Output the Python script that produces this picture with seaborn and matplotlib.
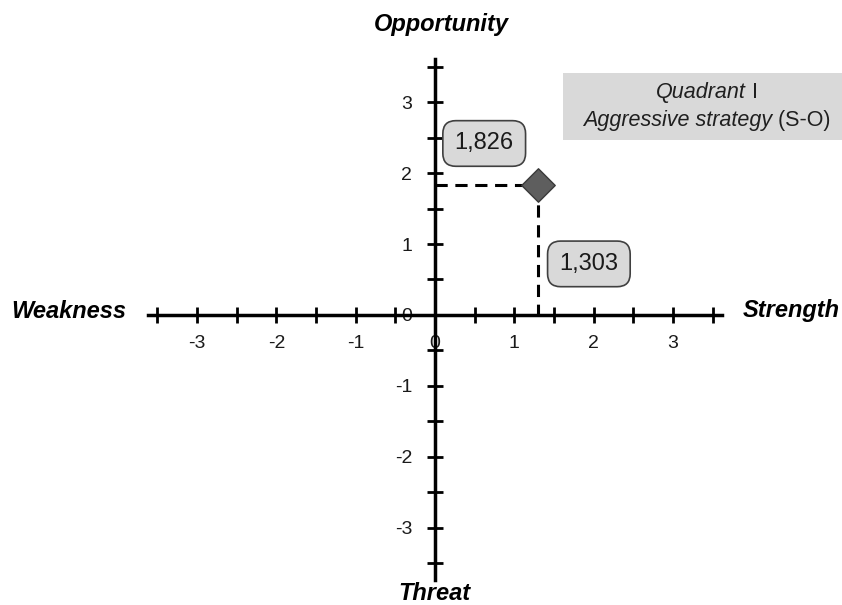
import numpy as np
import pandas as pd
import seaborn as sns
import matplotlib.pyplot as plt
from matplotlib.patches import Rectangle
from matplotlib.ticker import FixedLocator

sns.set_theme(style="white")
plt.rcParams['font.family'] = ['Liberation Sans', 'DejaVu Sans']

# 数据：SWOT 坐标
strength_score = [1.303]
opportunity_score = [1.826]
x_label_txt = ["1,303"]
y_label_txt = ["1,826"]
axis_ticks = [-3, -2, -1, 0, 1, 2, 3]
axis_names = ["Strength", "Weakness", "Opportunity", "Threat"]
quadrant_lines = [("Quadrant", "I"), ("Aggressive strategy", "(S-O)")]

df = pd.DataFrame({"S": strength_score, "O": opportunity_score})

fig = plt.figure(figsize=(8.42, 6.05), dpi=100)
ax = fig.add_axes([0, 0, 1, 1])
ax.set_xlim(-5.486, 5.132)
ax.set_ylim(-4.085, 4.437)

# 坐标轴放在原点
for side in ['top', 'right']:
    ax.spines[side].set_visible(False)
ax.spines['left'].set_position(('data', 0))
ax.spines['bottom'].set_position(('data', 0))
ax.spines['bottom'].set_bounds(-3.62, 3.62)
ax.spines['left'].set_bounds(-3.73, 3.6)
for side in ['left', 'bottom']:
    ax.spines[side].set_linewidth(2.5)
    ax.spines[side].set_color('black')

half_ticks = np.arange(-3.5, 3.51, 0.5)
ax.set_xticks(axis_ticks)
ax.set_yticks(axis_ticks)
ax.set_xticklabels([str(t) for t in axis_ticks])
ax.set_yticklabels([str(t) for t in axis_ticks])
ax.xaxis.set_minor_locator(FixedLocator(half_ticks))
ax.yaxis.set_minor_locator(FixedLocator(half_ticks))
ax.tick_params(which='both', bottom=True, left=True, direction='inout',
               length=11, width=2, color='black')
ax.tick_params(axis='x', which='major', pad=9, labelsize=14, labelcolor='#1a1a1a')
ax.tick_params(axis='y', which='major', pad=11, labelsize=14, labelcolor='#1a1a1a')
ax.grid(False)

# 虚线
s, o = strength_score[0], opportunity_score[0]
ax.plot([0, s], [o, o], ls=(0, (4, 2.5)), color='black', lw=2.2, zorder=3)
ax.plot([s, s], [o, 0], ls=(0, (4, 2.5)), color='black', lw=2.2, zorder=3)

# 点
sns.scatterplot(data=df, x="S", y="O", marker='D', s=290, color='#5e5e5e',
                edgecolor='#3a3a3a', linewidth=1, zorder=5, ax=ax, legend=False)
ax.set_xlabel("")
ax.set_ylabel("")

box = dict(boxstyle='round,pad=0.5,rounding_size=0.55', facecolor='#d9d9d9',
           edgecolor='#404040', linewidth=1.2)
ax.text(0.62, o + 0.59, y_label_txt[0], fontsize=17, ha='center', va='center',
        color='#1a1a1a', bbox=box, zorder=6)
ax.text(1.94, 0.72, x_label_txt[0], fontsize=17, ha='center', va='center',
        color='#1a1a1a', bbox=box, zorder=6)

# 轴名称
name_kw = dict(fontsize=17, fontweight='bold', fontstyle='italic', color='black',
               transform=ax.transAxes, ha='center', va='center')
ax.text(791 / 842, 1 - 311 / 605, axis_names[0], **name_kw)
ax.text(69 / 842, 1 - 311 / 605, axis_names[1], **name_kw)
ax.text(441 / 842, 1 - 24 / 605, axis_names[2], **name_kw)
ax.text(434 / 842, 1 - 594 / 605, axis_names[3], **name_kw)

# 象限说明框
ax.add_patch(Rectangle((563 / 842, 1 - 140 / 605), 279 / 842, 67 / 605,
                       transform=ax.transAxes, facecolor='#d9d9d9',
                       edgecolor='none', zorder=1))
renderer = fig.canvas.get_renderer()
for (it, rg), ypix in zip(quadrant_lines, [98, 126]):
    t1 = ax.text(0, 0, it, fontsize=15.5, fontstyle='italic', transform=None)
    t2 = ax.text(0, 0, " " + rg, fontsize=15.5, transform=None)
    w1 = t1.get_window_extent(renderer).width
    w2 = t2.get_window_extent(renderer).width
    x0 = 707 - (w1 + w2) / 2
    yy = 605 - ypix
    for t, xx in [(t1, x0), (t2, x0 + w1)]:
        t.set_position((xx, yy))
        t.set_va('baseline')
        t.set_color('#1f1f1f')

plt.savefig('out.png', dpi=100)
